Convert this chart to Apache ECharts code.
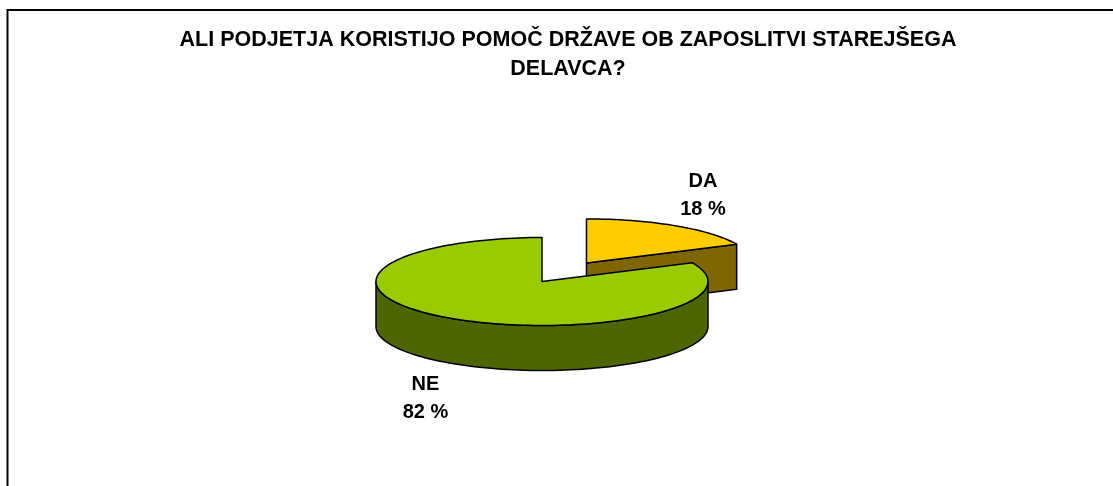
<!DOCTYPE html>
<html>
<head>
<meta charset="utf-8">
<script src="https://cdn.jsdelivr.net/npm/echarts@6/dist/echarts.min.js"></script>
<style>
html, body { margin: 0; padding: 0; background: #fff; }
#main { width: 1113px; height: 486px; }
</style>
</head>
<body>
<div id="main"></div>
<script>
// data
var titleText = 'ALI PODJETJA KORISTIJO POMOČ DRŽAVE OB ZAPOSLITVI STAREJŠEGA\nDELAVCA?';
var categories = ['DA', 'NE'];
var percents = [18, 82];
var topColors = ['#FFCC00', '#99CC00'];
var sideColors = ['#806600', '#4D6600'];
var explode = [0.5, 0];

var total = percents.reduce(function (a, b) { return a + b; }, 0);

// pie geometry (flattened 3d look)
var CX = 542, CY = 281.5, RX = 166, RY = 44, DEPTH = 45;
var RAD = Math.PI / 180;
var FONT = '"Liberation Sans", Arial, sans-serif';

function pt(ox, oy, deg, r, h) {
	return [CX + ox + r * RX * Math.cos(deg * RAD), CY + oy - r * RY * Math.sin(deg * RAD) + h];
}

function arc(ox, oy, from, to, h) {
	var pts = [];
	var n = Math.max(2, Math.ceil(Math.abs(to - from) / 2));
	for (var i = 0; i <= n; i++) {
		pts.push(pt(ox, oy, from + (to - from) * i / n, 1, h));
	}
	return pts;
}

function renderItem(params, api) {
	var i = params.dataIndex;
	var cum = 0;
	for (var k = 0; k < i; k++) cum += percents[k];
	var val = api.value(0);
	var a0 = 90 - cum / total * 360;
	var a1 = a0 - val / total * 360;
	var mid = (a0 + a1) / 2;
	var ox = explode[i] * RX * Math.cos(mid * RAD);
	var oy = -explode[i] * RY * Math.sin(mid * RAD);
	var line = { stroke: '#000', lineWidth: 1.5, lineJoin: 'round' };
	var children = [];
	var c0 = pt(ox, oy, 0, 0, 0), c1 = pt(ox, oy, 0, 0, DEPTH);

	function face(deg) {
		var p0 = pt(ox, oy, deg, 1, 0), p1 = pt(ox, oy, deg, 1, DEPTH);
		children.push({
			type: 'polygon',
			shape: { points: [c0, p0, p1, c1] },
			style: Object.assign({ fill: sideColors[i] }, line)
		});
	}
	// cut faces turned to the viewer
	if (Math.cos(a1 * RAD) > 1e-6) face(a1);
	if (Math.cos(a0 * RAD) < -1e-6) face(a0);

	// outer wall, front half only
	for (var s = -2; s <= 1; s++) {
		var lo = Math.max(a1, 180 + 360 * s), hi = Math.min(a0, 360 + 360 * s);
		if (hi > lo) {
			children.push({
				type: 'polygon',
				shape: { points: arc(ox, oy, lo, hi, 0).concat(arc(ox, oy, hi, lo, DEPTH)) },
				style: Object.assign({ fill: sideColors[i] }, line)
			});
		}
	}

	// top
	children.push({
		type: 'polygon',
		shape: { points: [c0].concat(arc(ox, oy, a1, a0, 0)) },
		style: Object.assign({ fill: topColors[i] }, line)
	});

	// label
	var up = Math.sin(mid * RAD) >= 0;
	var lp = pt(ox, oy, mid, 1.31, up ? 0 : DEPTH);
	children.push({
		type: 'text',
		x: lp[0],
		y: lp[1] + (up ? -19 : 23),
		style: {
			text: categories[i] + '\n' + val + ' %',
			fontFamily: FONT,
			fontSize: 20,
			fontWeight: 'bold',
			lineHeight: 28,
			align: 'center',
			verticalAlign: 'middle',
			fill: '#000'
		}
	});
	return { type: 'group', children: children };
}

var myChart = echarts.init(document.getElementById('main'));
var option = {
	animation: false,
	backgroundColor: '#fff',
	graphic: [{
		type: 'polyline',
		silent: true,
		shape: { points: [[7.5, 490], [7.5, 10], [1120, 10]] },
		style: { stroke: '#000', lineWidth: 2, fill: null }
	}, {
		type: 'text',
		silent: true,
		x: 568,
		y: 54.5,
		style: {
			text: titleText,
			fontFamily: FONT,
			fontSize: 21.5,
			fontWeight: 'bold',
			lineHeight: 28.5,
			align: 'center',
			verticalAlign: 'middle',
			fill: '#000'
		}
	}],
	series: [{
		type: 'custom',
		coordinateSystem: 'none',
		silent: true,
		renderItem: renderItem,
		data: percents
	}]
};
myChart.setOption(option);
</script>
</body>
</html>
